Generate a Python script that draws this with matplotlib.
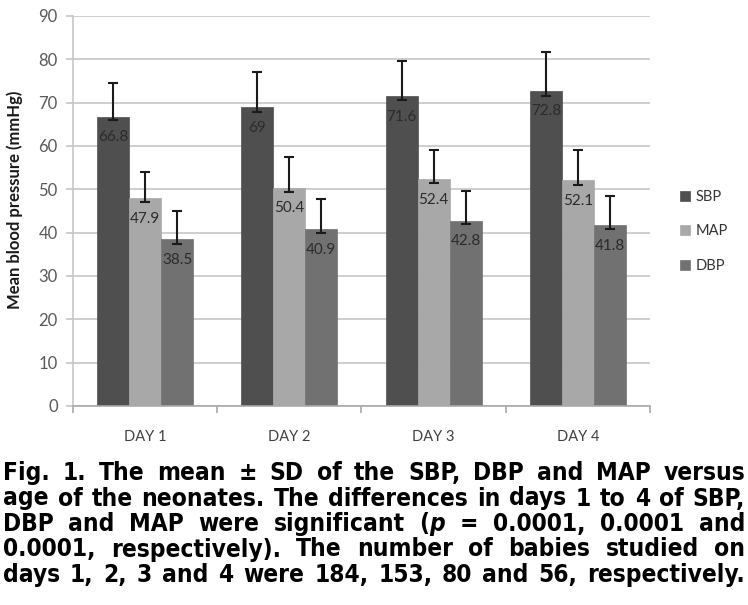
import matplotlib
matplotlib.use("Agg")
import matplotlib.pyplot as plt
import numpy as np
from matplotlib import font_manager
from matplotlib.font_manager import FontProperties

# values
days = ["DAY 1", "DAY 2", "DAY 3", "DAY 4"]
series = ["SBP", "MAP", "DBP"]
sbp = [66.8, 69.0, 71.6, 72.8]
map_ = [47.9, 50.4, 52.4, 52.1]
dbp = [38.5, 40.9, 42.8, 41.8]
# error bar ends (upper end / lower end as drawn)
sbp_hi = [74.5, 77.0, 79.7, 81.7]
map_hi = [54.1, 57.5, 59.0, 59.0]
dbp_hi = [44.9, 47.8, 49.7, 48.5]
sbp_lo = [65.9, 67.9, 70.5, 71.6]
map_lo = [47.1, 49.3, 51.5, 50.9]
dbp_lo = [37.4, 40.0, 42.0, 40.8]

colors = {"SBP": "#4f4f4f", "MAP": "#a8a8a8", "DBP": "#717171"}

caption_lines = [
    [["Fig."], ["1."], ["The"], ["mean"], ["\u00b1"], ["SD"], ["of"], ["the"], ["SBP,"], ["DBP"], ["and"], ["MAP"], ["versus"]],
    [["age"], ["of"], ["the"], ["neonates."], ["The"], ["differences"], ["in"], ["days"], ["1"], ["to"], ["4"], ["of"], ["SBP,"]],
    [["DBP"], ["and"], ["MAP"], ["were"], ["significant"], ["(", "p"], ["="], ["0.0001,"], ["0.0001"], ["and"]],
    [["0.0001,"], ["respectively)."], ["The"], ["number"], ["of"], ["babies"], ["studied"], ["on"]],
    [["days"], ["1,"], ["2,"], ["3"], ["and"], ["4"], ["were"], ["184,"], ["153,"], ["80"], ["and"], ["56,"], ["respectively."]],
]


def find_font(patterns):
    files = [f.fname for f in font_manager.fontManager.ttflist]
    for pat in patterns:
        for fn in files:
            if fn.split("/")[-1] == pat:
                return fn
    return None


bold_file = find_font(["LiberationSansNarrow-Bold.ttf", "DejaVuSansCondensed-Bold.ttf",
                       "RobotoCondensed-Bold.ttf"])
ital_file = find_font(["LiberationSansNarrow-BoldItalic.ttf", "DejaVuSansCondensed-BoldOblique.ttf",
                       "RobotoCondensed-BoldItalic.ttf"])


def cap_props(size, italic=False):
    if italic and ital_file:
        return FontProperties(fname=ital_file, size=size)
    if not italic and bold_file:
        return FontProperties(fname=bold_file, size=size)
    return FontProperties(family="Liberation Sans", weight="bold",
                          style="italic" if italic else "normal", size=size)


names = {f.name for f in font_manager.fontManager.ttflist}
chart_font = "Lato" if "Lato" in names else "DejaVu Sans"

W, H = 748, 605
fig = plt.figure(figsize=(W / 100, H / 100), dpi=100)
ax = fig.add_axes([73 / W, 1 - 406 / H, (650 - 73) / W, (406 - 16) / H])

x = np.arange(len(days))
w = 0.222
vals = [sbp, map_, dbp]
his = [sbp_hi, map_hi, dbp_hi]
los = [sbp_lo, map_lo, dbp_lo]
for i, name in enumerate(series):
    pos = x + (i - 1) * w
    v = np.array(vals[i])
    ax.bar(pos, v, w, color=colors[name], edgecolor=colors[name], linewidth=0.5,
           label=name, zorder=2)
    yerr = [v - np.array(los[i]), np.array(his[i]) - v]
    ax.errorbar(pos, v, yerr=yerr, fmt="none", ecolor="#1a1a1a", elinewidth=1.5,
                capsize=3.5, capthick=1.5, zorder=3)
    for px, pv in zip(pos, v):
        ax.annotate(f"{pv:g}", (px, pv), textcoords="offset points", xytext=(0, -15),
                    ha="center", va="center", fontsize=11, color="#2b2b2b",
                    family=chart_font, zorder=4)

ax.set_xlim(-0.5, 3.5)
ax.set_ylim(0, 90)
ax.set_yticks(range(0, 91, 10))
ax.yaxis.grid(True, color="#c6c6c6", linewidth=1.2, zorder=0)
ax.set_axisbelow(True)
for s in ["top", "right"]:
    ax.spines[s].set_visible(False)
ax.spines["left"].set_color("#c6c6c6")
ax.spines["bottom"].set_color("#a9a9a9")
ax.spines["left"].set_linewidth(1.2)
ax.spines["bottom"].set_linewidth(1.2)

ax.set_xticks(x)
ax.set_xticklabels(days, family=chart_font, fontsize=10.5, color="#404040")
ax.set_xticks(np.arange(-0.5, 3.6, 1.0), minor=True)
ax.tick_params(axis="x", which="major", length=0, pad=17)
ax.tick_params(axis="x", which="minor", length=5, color="#a9a9a9", width=1.2)
ax.tick_params(axis="y", length=5, color="#c6c6c6", width=1.2, pad=6,
               labelsize=12, labelcolor="#595959")
for t in ax.get_yticklabels():
    t.set_family(chart_font)

fig.text(15 / W, 1 - 200 / H, "Mean blood pressure (mmHg)", rotation=90,
         ha="center", va="center", fontsize=12, fontweight="bold",
         family=chart_font, color="#1a1a1a")

leg = ax.legend(loc="upper left", bbox_to_anchor=((680 - 73) / 577, 1 - (190 - 16) / 390),
                frameon=False, fontsize=10.5, handlelength=0.7, handleheight=0.7,
                handletextpad=0.4, labelspacing=1.4, borderaxespad=0,
                borderpad=0)
for t in leg.get_texts():
    t.set_family(chart_font)
    t.set_color("#333333")

# justified caption
fig.canvas.draw()
renderer = fig.canvas.get_renderer()
left, right = 3, 745
baselines = [480, 505.5, 531, 556.5, 582]


def make_word(parts, size):
    return [fig.text(0, 0, p, fontproperties=cap_props(size, p == "p"),
                     ha="left", va="baseline") for p in parts]


def word_width(objs):
    return sum(o.get_window_extent(renderer).width for o in objs)


size = 17.6
# shrink if the font is too wide for the column
nat = []
for line in caption_lines:
    objs = [make_word(wd, size) for wd in line]
    nat.append(sum(word_width(o) for o in objs) + 3.5 * (len(line) - 1))
    for o in objs:
        for piece in o:
            piece.remove()
size *= min(1.0, (right - left) / max(nat))

for line, base in zip(caption_lines, baselines):
    objs = [make_word(wd, size) for wd in line]
    widths = [word_width(o) for o in objs]
    gap = (right - left - sum(widths)) / (len(line) - 1)
    cx = left
    for o, wd in zip(objs, widths):
        px = cx
        for piece in o:
            piece.set_position((px / W, 1 - base / H))
            px += piece.get_window_extent(renderer).width
        cx += wd + gap

fig.savefig("out.png", dpi=100)
